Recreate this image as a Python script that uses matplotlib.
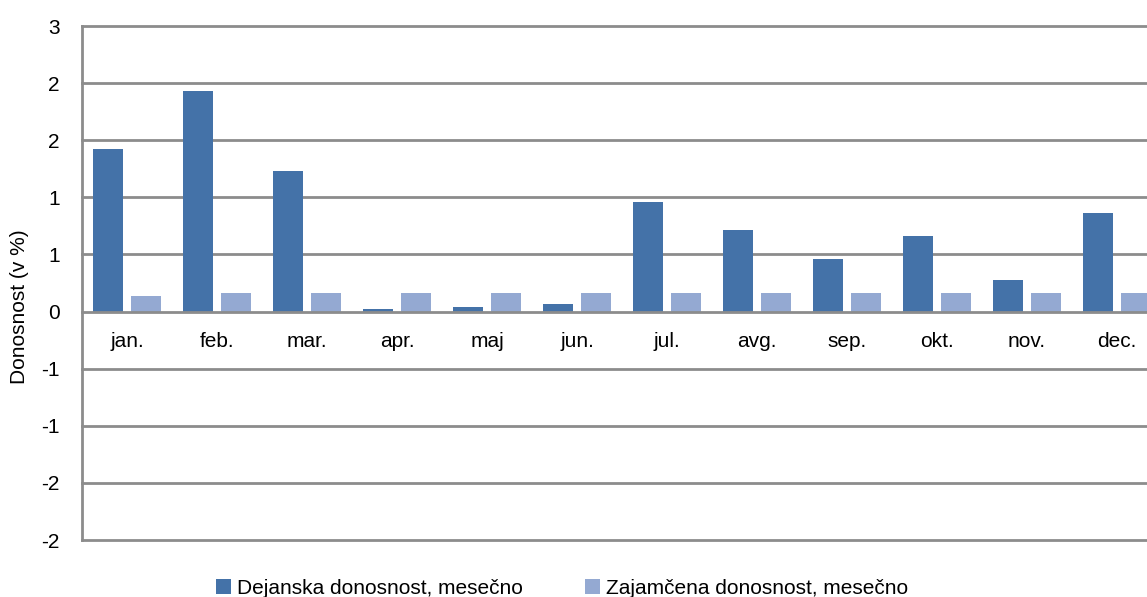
import matplotlib
matplotlib.use("Agg")
import matplotlib.pyplot as plt
import numpy as np
from matplotlib import font_manager

months = ["jan.", "feb.", "mar.", "apr.", "maj", "jun.", "jul.", "avg.", "sep.", "okt.", "nov.", "dec."]
dejanska = [1.42, 1.93, 1.23, 0.02, 0.04, 0.07, 0.96, 0.71, 0.46, 0.66, 0.28, 0.86]
zajamcena = [0.14, 0.16, 0.16, 0.16, 0.16, 0.16, 0.16, 0.16, 0.16, 0.16, 0.16, 0.16]
ytick_values = [-2.0, -1.5, -1.0, -0.5, 0.0, 0.5, 1.0, 1.5, 2.0, 2.5]
ytick_labels = ["-2", "-2", "-1", "-1", "0", "1", "1", "2", "2", "3"]
series_names = ["Dejanska donosnost, mesečno", "Zajamčena donosnost, mesečno"]

avail = {f.name for f in font_manager.fontManager.ttflist}
fam = "Liberation Sans Narrow" if "Liberation Sans Narrow" in avail else "Liberation Sans"
plt.rcParams['font.family'] = [fam, 'DejaVu Sans']

W, H = 1147, 597
fig = plt.figure(figsize=(W / 100, H / 100), dpi=100)
ax = fig.add_axes([82 / W, (H - 540) / H, (1162 - 82) / W, (540 - 26) / H])

dark = "#4472A8"
light = "#94A9D2"
grid = "#8C8C8C"

x = np.arange(len(months))
bw = 30 / 90
off = 19 / 90
ax.bar(x - off, dejanska, bw, color=dark, edgecolor="none", label=series_names[0], zorder=3)
ax.bar(x + off, zajamcena, bw, color=light, edgecolor="none", label=series_names[1], zorder=3)

ax.set_xlim(-0.5, len(months) - 0.5)
ax.set_ylim(-2.0, 2.5)
ax.set_yticks(ytick_values)
ax.set_yticklabels(ytick_labels, fontsize=15)
for v in ytick_values:
    if v != 0:
        ax.axhline(v, color=grid, lw=2, zorder=1, clip_on=False)

for s in ["top", "right"]:
    ax.spines[s].set_visible(False)
ax.spines["left"].set_color(grid)
ax.spines["left"].set_linewidth(2)
ax.spines["bottom"].set_position(("data", 0))
ax.spines["bottom"].set_color(grid)
ax.spines["bottom"].set_linewidth(2)
ax.spines["bottom"].set_zorder(4)
ax.tick_params(axis="y", length=0, pad=16)
ax.tick_params(axis="x", length=0, pad=15)
ax.set_xticks(x)
ax.set_xticklabels(months, fontsize=15)

fig.text(20 / W, 1 - 307 / H, "Donosnost (v %)", rotation=90, ha="center", va="center", fontsize=15)

fig.legend(loc="center", bbox_to_anchor=(562 / W, 1 - 588 / H), ncol=2, frameon=False,
           fontsize=15, handlelength=0.7, handleheight=0.7, handletextpad=0.3, columnspacing=3.0)

fig.savefig("out.png", dpi=100)
